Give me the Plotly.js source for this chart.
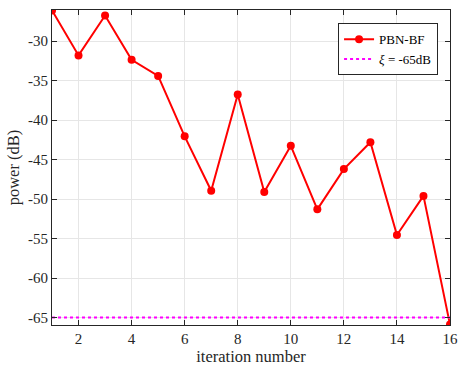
<!DOCTYPE html>
<html>
<head>
<meta charset="utf-8">
<script src="https://cdn.plot.ly/plotly-3.0.1.min.js"></script>
<style>html,body{margin:0;padding:0;background:#fff;}#chart{width:458px;height:368px;}</style>
</head>
<body>
<div id="chart"></div>
<script>
const iterations = [1,2,3,4,5,6,7,8,9,10,11,12,13,14,15,16];
const powerPBN = [-26.1,-31.8,-26.75,-32.35,-34.4,-42.05,-48.95,-36.75,-49.1,-43.25,-51.3,-46.2,-42.8,-54.55,-49.6,-65.9];
const xiLevel = -65;
const xTickVals = [2,4,6,8,10,12,14,16];
const yTickVals = [-65,-60,-55,-50,-45,-40,-35,-30];

const font = 'Liberation Serif';
const traces = [
  {
    x: iterations, y: powerPBN, type: 'scatter', mode: 'lines+markers', name: 'PBN-BF',
    line: {color: '#ff0000', width: 2},
    marker: {color: '#ff0000', size: 8, symbol: 'circle'}
  },
  {
    x: [iterations[0], iterations[iterations.length-1]], y: [xiLevel, xiLevel],
    type: 'scatter', mode: 'lines', name: '<i>ξ</i> = -65dB',
    line: {color: '#ff00ff', width: 2, dash: 'dot'}
  }
];
const axisCommon = {
  showline: true, linecolor: '#262626', linewidth: 1, mirror: 'ticks',
  ticks: 'inside', ticklen: 5, tickcolor: '#262626',
  showgrid: true, gridcolor: '#e6e6e6', gridwidth: 1, zeroline: false,
  tickfont: {family: font, size: 15, color: '#262626'}
};
const layout = {
  width: 458, height: 368,
  margin: {l: 52, r: 8, t: 10, b: 43},
  paper_bgcolor: '#fff', plot_bgcolor: '#fff',
  font: {family: font, color: '#262626'},
  showlegend: true,
  legend: {
    x: 0.97, y: 0.958, xanchor: 'right', yanchor: 'top',
    bgcolor: '#fff', bordercolor: '#262626', borderwidth: 1,
    font: {family: font, size: 13, color: '#000'},
    tracegroupgap: 0, itemwidth: 30
  },
  xaxis: Object.assign({}, axisCommon, {
    range: [1, 16], tickvals: xTickVals, ticktext: xTickVals.map(String),
    title: {text: 'iteration number', font: {family: font, size: 16.5, color: '#262626'}, standoff: 2}
  }),
  yaxis: Object.assign({}, axisCommon, {
    range: [-65.95, -26.05], tickvals: yTickVals, ticktext: yTickVals.map(String),
    title: {text: 'power (dB)', font: {family: font, size: 16.5, color: '#262626'}, standoff: 4}
  })
};
Plotly.newPlot('chart', traces, layout, {displayModeBar: false, staticPlot: true});
</script>
</body>
</html>
